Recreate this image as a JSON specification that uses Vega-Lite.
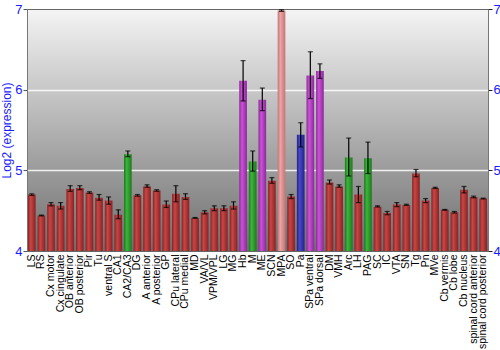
{
  "$schema": "https://vega.github.io/schema/vega-lite/v6.json",
  "width": 500,
  "height": 350,
  "autosize": {"type": "fit", "contains": "padding"},
  "padding": {"left": 0, "top": 3, "right": -1, "bottom": 1},
  "background": "white",
  "view": {
    "fill": {"gradient": "linear", "x1": 0, "y1": 0, "x2": 0, "y2": 1, "stops": [{"offset": 0, "color": "#f4f4f4"}, {"offset": 1, "color": "#6e6e6e"}]},
    "stroke": "#666666",
    "strokeWidth": 1
  },
  "config": {
    "font": "Liberation Sans",
    "axis": {"labelFont": "Liberation Sans", "titleFont": "Liberation Sans"}
  },
  "data": {
    "values": [
      {"name": "LS", "v": 4.70, "lo": 4.69, "hi": 4.71, "cls": "red"},
      {"name": "RS", "v": 4.44, "lo": 4.435, "hi": 4.445, "cls": "red"},
      {"name": "Cx motor", "v": 4.58, "lo": 4.56, "hi": 4.60, "cls": "red"},
      {"name": "Cx cingulate", "v": 4.56, "lo": 4.52, "hi": 4.60, "cls": "red"},
      {"name": "OB anterior", "v": 4.77, "lo": 4.74, "hi": 4.81, "cls": "red"},
      {"name": "OB posterior", "v": 4.78, "lo": 4.76, "hi": 4.81, "cls": "red"},
      {"name": "Pir", "v": 4.725, "lo": 4.715, "hi": 4.735, "cls": "red"},
      {"name": "Tu", "v": 4.66, "lo": 4.63, "hi": 4.70, "cls": "red"},
      {"name": "ventral S", "v": 4.625, "lo": 4.58, "hi": 4.67, "cls": "red"},
      {"name": "CA1", "v": 4.45, "lo": 4.40, "hi": 4.51, "cls": "red"},
      {"name": "CA2/CA3", "v": 5.20, "lo": 5.17, "hi": 5.24, "cls": "green"},
      {"name": "DG", "v": 4.69, "lo": 4.68, "hi": 4.70, "cls": "red"},
      {"name": "A anterior", "v": 4.80, "lo": 4.79, "hi": 4.82, "cls": "red"},
      {"name": "A posterior", "v": 4.75, "lo": 4.74, "hi": 4.76, "cls": "red"},
      {"name": "GP", "v": 4.575, "lo": 4.54, "hi": 4.62, "cls": "red"},
      {"name": "CPu lateral", "v": 4.71, "lo": 4.61, "hi": 4.81, "cls": "red"},
      {"name": "CPu medial", "v": 4.67, "lo": 4.64, "hi": 4.71, "cls": "red"},
      {"name": "MD", "v": 4.41, "lo": 4.405, "hi": 4.415, "cls": "red"},
      {"name": "VA/VL", "v": 4.48, "lo": 4.46, "hi": 4.50, "cls": "red"},
      {"name": "VPM/VPL", "v": 4.53, "lo": 4.50, "hi": 4.56, "cls": "red"},
      {"name": "LG", "v": 4.53, "lo": 4.50, "hi": 4.56, "cls": "red"},
      {"name": "MG", "v": 4.56, "lo": 4.52, "hi": 4.61, "cls": "red"},
      {"name": "Hb", "v": 6.11, "lo": 5.86, "hi": 6.36, "cls": "purple"},
      {"name": "M", "v": 5.11, "lo": 4.99, "hi": 5.24, "cls": "green"},
      {"name": "ME", "v": 5.875, "lo": 5.74, "hi": 6.02, "cls": "purple"},
      {"name": "SCN", "v": 4.87, "lo": 4.84, "hi": 4.91, "cls": "red"},
      {"name": "MPA", "v": 6.98, "lo": 6.97, "hi": 6.99, "cls": "salmon"},
      {"name": "SO", "v": 4.675, "lo": 4.65, "hi": 4.70, "cls": "red"},
      {"name": "Pa", "v": 5.44, "lo": 5.29, "hi": 5.59, "cls": "blue"},
      {"name": "SPa ventral", "v": 6.175, "lo": 5.89, "hi": 6.47, "cls": "purple"},
      {"name": "SPa dorsal", "v": 6.23, "lo": 6.14, "hi": 6.32, "cls": "purple"},
      {"name": "DM", "v": 4.85, "lo": 4.83, "hi": 4.88, "cls": "red"},
      {"name": "VMH", "v": 4.80, "lo": 4.79, "hi": 4.82, "cls": "red"},
      {"name": "Arc", "v": 5.16, "lo": 4.93, "hi": 5.40, "cls": "green"},
      {"name": "LH", "v": 4.70, "lo": 4.60, "hi": 4.80, "cls": "red"},
      {"name": "PAG", "v": 5.15, "lo": 4.96, "hi": 5.35, "cls": "green"},
      {"name": "SC", "v": 4.55, "lo": 4.545, "hi": 4.56, "cls": "red"},
      {"name": "IC", "v": 4.47, "lo": 4.45, "hi": 4.49, "cls": "red"},
      {"name": "VTA", "v": 4.575, "lo": 4.55, "hi": 4.60, "cls": "red"},
      {"name": "SN", "v": 4.57, "lo": 4.565, "hi": 4.58, "cls": "red"},
      {"name": "Tg", "v": 4.96, "lo": 4.92, "hi": 5.01, "cls": "red"},
      {"name": "Pn", "v": 4.625, "lo": 4.60, "hi": 4.65, "cls": "red"},
      {"name": "MVe", "v": 4.78, "lo": 4.775, "hi": 4.79, "cls": "red"},
      {"name": "Cb vermis", "v": 4.51, "lo": 4.505, "hi": 4.515, "cls": "red"},
      {"name": "Cb lobe", "v": 4.48, "lo": 4.47, "hi": 4.49, "cls": "red"},
      {"name": "Cb nucleus", "v": 4.76, "lo": 4.72, "hi": 4.80, "cls": "red"},
      {"name": "spinal cord anterior", "v": 4.67, "lo": 4.66, "hi": 4.68, "cls": "red"},
      {"name": "spinal cord posterior", "v": 4.65, "lo": 4.645, "hi": 4.655, "cls": "red"}
    ]
  },
  "encoding": {
    "x": {
      "field": "name", "type": "nominal", "title": null,
      "sort": ["LS", "RS", "Cx motor", "Cx cingulate", "OB anterior", "OB posterior", "Pir", "Tu", "ventral S", "CA1", "CA2/CA3", "DG", "A anterior", "A posterior", "GP", "CPu lateral", "CPu medial", "MD", "VA/VL", "VPM/VPL", "LG", "MG", "Hb", "M", "ME", "SCN", "MPA", "SO", "Pa", "SPa ventral", "SPa dorsal", "DM", "VMH", "Arc", "LH", "PAG", "SC", "IC", "VTA", "SN", "Tg", "Pn", "MVe", "Cb vermis", "Cb lobe", "Cb nucleus", "spinal cord anterior", "spinal cord posterior"],
      "scale": {"paddingInner": 0.2, "paddingOuter": 0.1},
      "axis": {"labelAngle": -90, "labelColor": "black", "labelFontSize": 10.5, "domain": false, "ticks": false, "labelPadding": 3}
    }
  },
  "layer": [
    {
      "transform": [{"filter": "datum.cls === 'red'"}],
      "mark": {"type": "bar", "clip": true, "color": {"gradient": "linear", "x1": 0, "y1": 0, "x2": 1, "y2": 0, "stops": [{"offset": 0, "color": "#8a2222"}, {"offset": 0.35, "color": "#c84646"}, {"offset": 1, "color": "#8a2222"}]}},
      "encoding": {
        "y": {"field": "v", "type": "quantitative", "scale": {"domain": [4, 7], "nice": false, "zero": false},
          "title": "Log2 (expression)",
          "axis": {"orient": "left", "values": [4, 5, 6, 7], "titleColor": "#1a1aff", "titleFontSize": 12, "titleFontWeight": "normal", "titlePadding": 1,
            "labelColor": "#1a1aff", "labelFontSize": 13, "labelPadding": 1, "tickColor": "#555555", "tickSize": 4, "domainColor": "#777777",
            "grid": true, "gridColor": "white", "gridWidth": 1.5,
            "gridOpacity": {"condition": {"test": "datum.value === 5 || datum.value === 6", "value": 0.85}, "value": 0}}}
      }
    },
    {
      "transform": [{"filter": "datum.cls === 'green'"}],
      "mark": {"type": "bar", "clip": true, "color": {"gradient": "linear", "x1": 0, "y1": 0, "x2": 1, "y2": 0, "stops": [{"offset": 0, "color": "#1c7a1c"}, {"offset": 0.35, "color": "#3cb43c"}, {"offset": 1, "color": "#1c7a1c"}]}},
      "encoding": {"y": {"field": "v", "type": "quantitative", "axis": null}}
    },
    {
      "transform": [{"filter": "datum.cls === 'purple'"}],
      "mark": {"type": "bar", "clip": true, "color": {"gradient": "linear", "x1": 0, "y1": 0, "x2": 1, "y2": 0, "stops": [{"offset": 0, "color": "#8a2a9a"}, {"offset": 0.35, "color": "#cc52d6"}, {"offset": 1, "color": "#8a2a9a"}]}},
      "encoding": {"y": {"field": "v", "type": "quantitative", "axis": null}}
    },
    {
      "transform": [{"filter": "datum.cls === 'blue'"}],
      "mark": {"type": "bar", "clip": true, "color": {"gradient": "linear", "x1": 0, "y1": 0, "x2": 1, "y2": 0, "stops": [{"offset": 0, "color": "#22228a"}, {"offset": 0.35, "color": "#4848c8"}, {"offset": 1, "color": "#22228a"}]}},
      "encoding": {"y": {"field": "v", "type": "quantitative", "axis": null}}
    },
    {
      "transform": [{"filter": "datum.cls === 'salmon'"}],
      "mark": {"type": "bar", "clip": true, "color": {"gradient": "linear", "x1": 0, "y1": 0, "x2": 1, "y2": 0, "stops": [{"offset": 0, "color": "#c47474"}, {"offset": 0.35, "color": "#eca4a4"}, {"offset": 1, "color": "#c47474"}]}},
      "encoding": {"y": {"field": "v", "type": "quantitative", "axis": null}}
    },
    {
      "mark": {"type": "rule", "color": "black", "strokeWidth": 1.2},
      "encoding": {"y": {"field": "lo", "type": "quantitative", "axis": null}, "y2": {"field": "hi"}}
    },
    {
      "mark": {"type": "tick", "color": "black", "size": 5, "thickness": 1.2},
      "encoding": {"y": {"field": "lo", "type": "quantitative", "axis": null}}
    },
    {
      "mark": {"type": "tick", "color": "black", "size": 5, "thickness": 1.2},
      "encoding": {"y": {"field": "hi", "type": "quantitative",
        "axis": {"orient": "right", "values": [4, 5, 6, 7], "title": null, "labelColor": "#1a1aff", "labelFontSize": 13, "labelPadding": 1, "tickColor": "#222222", "tickSize": 4, "domainColor": "#777777", "grid": false}}}
    }
  ],
  "resolve": {"axis": {"y": "independent"}}
}
